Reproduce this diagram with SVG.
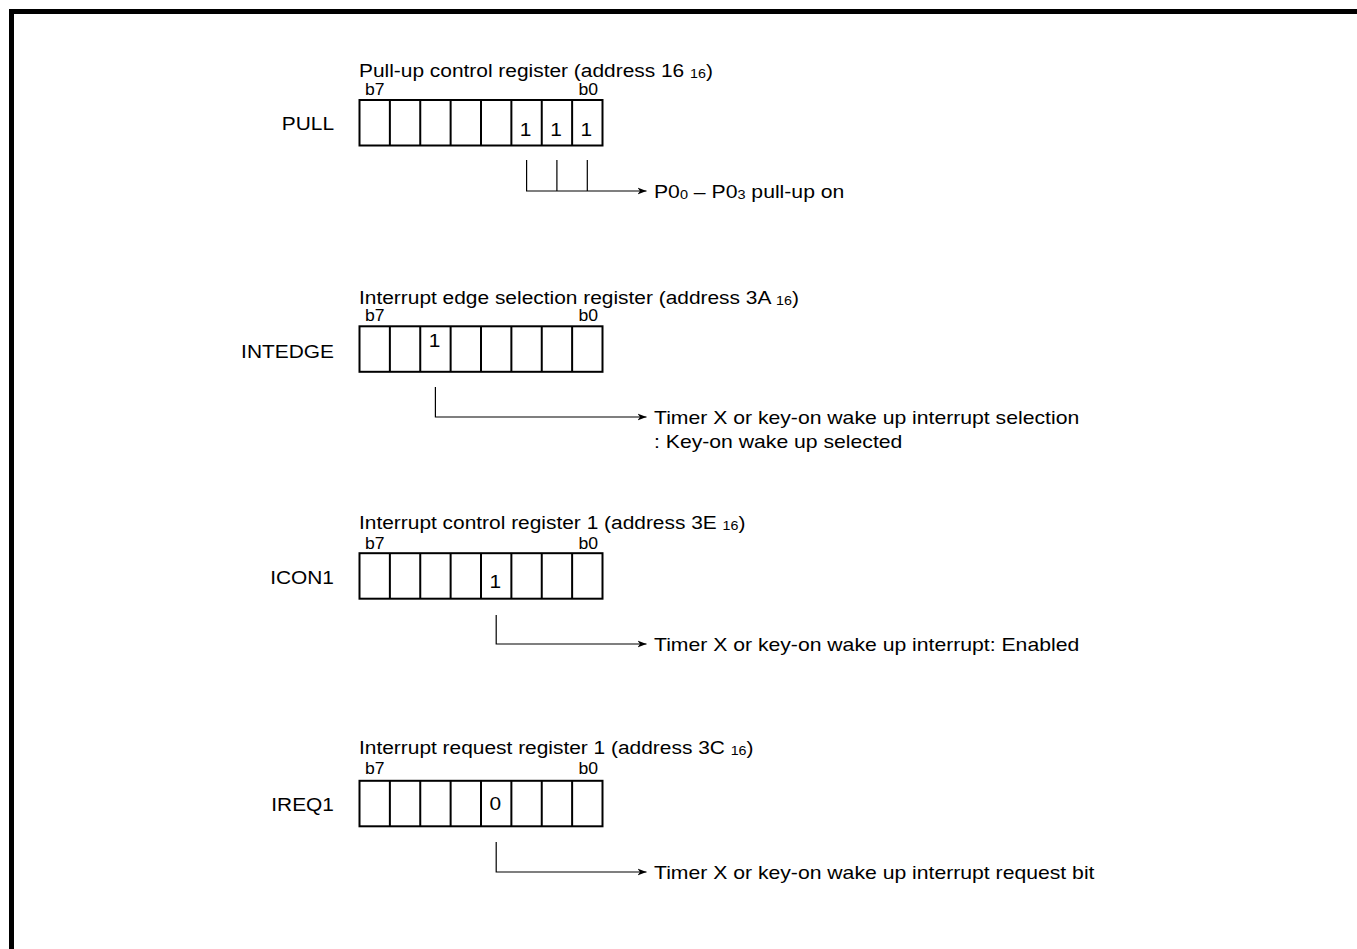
<svg xmlns="http://www.w3.org/2000/svg" xmlns:xlink="http://www.w3.org/1999/xlink" width="1357" height="949" viewBox="0 0 1357 949">
<style>
.t{font-family:"Liberation Sans",Arial,Helvetica,sans-serif;font-size:19px;fill:#000}
.s{font-size:13px}
.b{font-family:"Liberation Sans",Arial,Helvetica,sans-serif;font-size:16px;fill:#000}
.cell{fill:#fff;stroke:#000;stroke-width:2}
.lead{fill:none;stroke:#000;stroke-width:1.2}
</style>
<defs>
<g id="reg">
<rect class="cell" x="0" y="0" width="243" height="45.5"/>
<path class="cell" d="M30.375,0V45.5M60.75,0V45.5M91.125,0V45.5M121.5,0V45.5M151.875,0V45.5M182.25,0V45.5M212.625,0V45.5"/>
</g>
<marker id="arr" markerUnits="userSpaceOnUse" markerWidth="12" markerHeight="10" refX="9" refY="4" orient="auto">
<path d="M0,0.5L9,4L0,7.5L2.5,4z" fill="#000"/>
</marker>
</defs>
<rect width="1357" height="949" fill="#fff"/>
<g id="frame">
<rect x="9" y="9" width="1348" height="5" fill="#000"/>
<rect x="9" y="9" width="5" height="940" fill="#000"/>
</g>

<g id="pull">
<g transform="translate(359,77) scale(1.1,1)"><text class="t">Pull-up control register (address 16 <tspan class="s" dy="1">16</tspan><tspan dy="-1">)</tspan></text></g>
<g transform="translate(365,95) scale(1.1,1)"><text class="b">b7</text></g>
<g transform="translate(598,95) scale(1.1,1)"><text class="b" text-anchor="end">b0</text></g>
<g transform="translate(334,130) scale(1.1,1)"><text class="t" text-anchor="end">PULL</text></g>
<use xlink:href="#reg" transform="translate(359.5,100)"/>
<g transform="translate(525.5,136) scale(1.1,1)"><text class="t" text-anchor="middle">1</text></g>
<g transform="translate(556,136) scale(1.1,1)"><text class="t" text-anchor="middle">1</text></g>
<g transform="translate(586.3,136) scale(1.1,1)"><text class="t" text-anchor="middle">1</text></g>
</g>

<g id="intedge">
<g transform="translate(359,304) scale(1.1,1)"><text class="t">Interrupt edge selection register (address 3A <tspan class="s" dy="1">16</tspan><tspan dy="-1">)</tspan></text></g>
<g transform="translate(365,321) scale(1.1,1)"><text class="b">b7</text></g>
<g transform="translate(598,321) scale(1.1,1)"><text class="b" text-anchor="end">b0</text></g>
<g transform="translate(334,357.5) scale(1.1,1)"><text class="t" text-anchor="end">INTEDGE</text></g>
<use xlink:href="#reg" transform="translate(359.5,326.3)"/>
<g transform="translate(434.5,346.5) scale(1.1,1)"><text class="t" text-anchor="middle">1</text></g>
</g>

<g id="icon1">
<g transform="translate(359,529) scale(1.1,1)"><text class="t">Interrupt control register 1 (address 3E <tspan class="s" dy="1">16</tspan><tspan dy="-1">)</tspan></text></g>
<g transform="translate(365,549) scale(1.1,1)"><text class="b">b7</text></g>
<g transform="translate(598,549) scale(1.1,1)"><text class="b" text-anchor="end">b0</text></g>
<g transform="translate(334,583.5) scale(1.1,1)"><text class="t" text-anchor="end">ICON1</text></g>
<use xlink:href="#reg" transform="translate(359.5,553.2)"/>
<g transform="translate(495.2,587.5) scale(1.1,1)"><text class="t" text-anchor="middle">1</text></g>
</g>

<g id="ireq1">
<g transform="translate(359,754) scale(1.1,1)"><text class="t">Interrupt request register 1 (address 3C <tspan class="s" dy="1">16</tspan><tspan dy="-1">)</tspan></text></g>
<g transform="translate(365,774) scale(1.1,1)"><text class="b">b7</text></g>
<g transform="translate(598,774) scale(1.1,1)"><text class="b" text-anchor="end">b0</text></g>
<g transform="translate(334,811) scale(1.1,1)"><text class="t" text-anchor="end">IREQ1</text></g>
<use xlink:href="#reg" transform="translate(359.5,780.8)"/>
<g transform="translate(495.2,810) scale(1.1,1)"><text class="t" text-anchor="middle">0</text></g>
</g>

<g id="connectors">
<path class="lead" d="M526.6,160V191H646.5" marker-end="url(#arr)"/>
<path class="lead" d="M556.9,160V191M587.3,160V191"/>
<path class="lead" d="M435.4,387V417H646.5" marker-end="url(#arr)"/>
<path class="lead" d="M496.2,615V644H646.5" marker-end="url(#arr)"/>
<path class="lead" d="M496.2,842V872H646.5" marker-end="url(#arr)"/>
</g>

<g id="notes">
<g transform="translate(654,197.5) scale(1.115,1)"><text class="t">P0<tspan class="s" dy="1">0</tspan><tspan dy="-1"> – P0</tspan><tspan class="s" dy="1">3</tspan><tspan dy="-1"> pull-up on</tspan></text></g>
<g transform="translate(654,424) scale(1.115,1)"><text class="t">Timer X or key-on wake up interrupt selection</text></g>
<g transform="translate(654,448) scale(1.115,1)"><text class="t">: Key-on wake up selected</text></g>
<g transform="translate(654,650.5) scale(1.115,1)"><text class="t">Timer X or key-on wake up interrupt: Enabled</text></g>
<g transform="translate(654,878.5) scale(1.115,1)"><text class="t">Timer X or key-on wake up interrupt request bit</text></g>
</g>
</svg>
